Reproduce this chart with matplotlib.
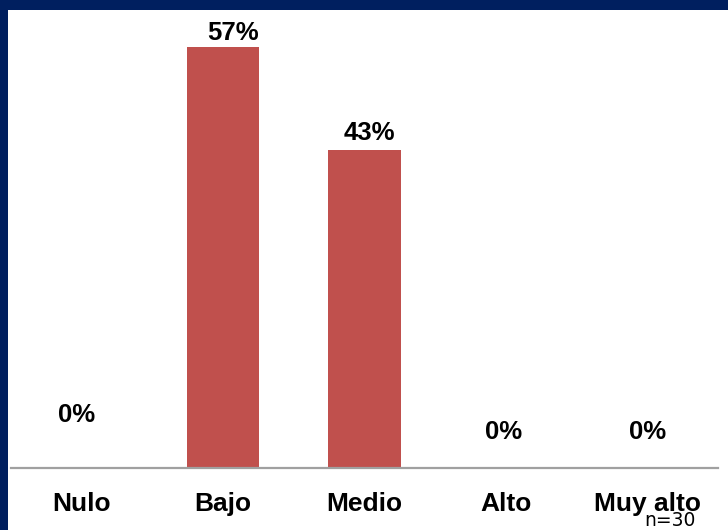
import matplotlib
matplotlib.use("Agg")
import matplotlib.pyplot as plt
from matplotlib.patches import Rectangle

categories = ["Nulo", "Bajo", "Medio", "Alto", "Muy alto"]
values = [0, 57, 43, 0, 0]
value_labels = ["0%", "57%", "43%", "0%", "0%"]
sample_note = "n=30"

W, H, DPI = 728, 530, 100
fig = plt.figure(figsize=(W / DPI, H / DPI), dpi=DPI)
fig.patch.set_facecolor("#001F5F")
fig.patches.append(Rectangle((8 / W, 0), 1 - 8 / W, 1 - 10 / H,
                             transform=fig.transFigure, facecolor="white",
                             edgecolor="none", zorder=-10))

left, right, base, top = 11, 718, 468, 10
ax = fig.add_axes([left / W, (H - base) / H, (right - left) / W, (base - top) / H])
ax.set_facecolor("none")
ax.set_zorder(1)

x = list(range(len(categories)))
ax.bar(x, values, width=0.51, color="#C0504D", zorder=2)
ax.set_xlim(-0.5, len(categories) - 0.5)
ax.set_ylim(0, 62)

# label offsets in pixels (dx, dy) relative to the top of each bar
px = 72 / DPI
label_offsets = [(-5, 53), (10, 14), (5, 17), (-2, 36), (0, 36)]
for xi, v, lab, (dx, dy) in zip(x, values, value_labels, label_offsets):
    ax.annotate(lab, (xi, v), xytext=(dx * px, dy * px), textcoords="offset points",
                ha="center", va="center", fontsize=18.5, fontweight="bold",
                family="Liberation Sans", color="black")

for s in ["top", "left", "right"]:
    ax.spines[s].set_visible(False)
ax.spines["bottom"].set_color("#A0A0A0")
ax.spines["bottom"].set_linewidth(1.6)
ax.set_yticks([])
ax.set_xticks(x)
ax.set_xticklabels(categories, fontsize=19, fontweight="bold", family="Liberation Sans")
ax.tick_params(axis="x", length=0, pad=17)

fig.text(670 / W, 1 - 520 / H, sample_note, ha="center", va="center",
         fontsize=13.5, family="DejaVu Sans", color="black", zorder=5)

fig.savefig("out.png", dpi=DPI, facecolor=fig.get_facecolor())
